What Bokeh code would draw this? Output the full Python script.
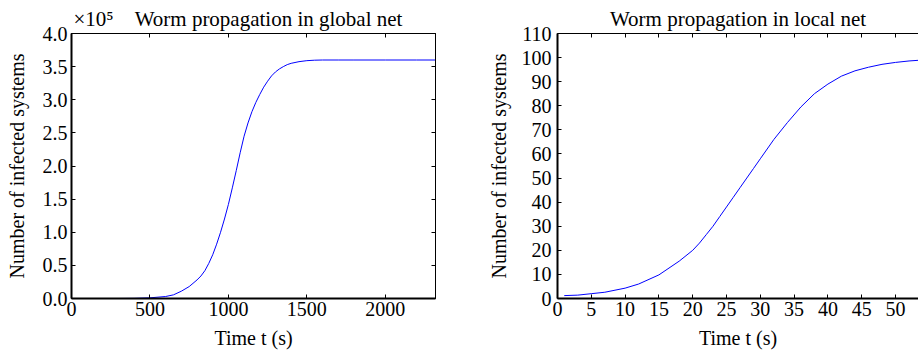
from bokeh.plotting import figure
from bokeh.models import (Range1d, LinearAxis, FixedTicker, NumeralTickFormatter,
                          Title, CustomJSTickFormatter)
from bokeh.layouts import row
from bokeh.embed import file_html
from bokeh.resources import INLINE

FONT = "Liberation Serif"

# ---- data ----
global_t = [0, 100, 200, 300, 400, 500, 600, 650, 700, 750, 800, 825, 850, 875,
            900, 925, 950, 975, 1000, 1025, 1050, 1075, 1100, 1125, 1150, 1175,
            1200, 1225, 1250, 1275, 1300, 1325, 1350, 1375, 1400, 1450, 1500,
            1550, 1600, 1700, 1800, 2000, 2200, 2320]
global_n = [0.0, 0.0, 0.0, 0.0, 0.002, 0.01, 0.03, 0.055, 0.11, 0.18, 0.28, 0.34,
            0.42, 0.53, 0.66, 0.82, 1.0, 1.2, 1.42, 1.67, 1.93, 2.2, 2.45, 2.65,
            2.82, 2.96, 3.08, 3.19, 3.28, 3.36, 3.42, 3.465, 3.5, 3.53, 3.55,
            3.575, 3.59, 3.597, 3.6, 3.6, 3.6, 3.6, 3.6, 3.6]  # x 10^5

local_t = [1, 3, 5, 7, 10, 12, 15, 18, 20, 21, 22, 23, 24, 25, 26, 27, 28, 29,
           30, 32, 34, 36, 38, 40, 42, 44, 46, 48, 50, 52, 54]
local_n = [1.2, 1.4, 2.0, 2.6, 4.3, 6.0, 9.8, 15.5, 20, 23, 26.5, 30, 34, 38,
           42, 46, 50, 54, 58, 66, 73, 79.5, 85, 89, 92.3, 94.5, 96, 97.2, 98,
           98.6, 99]

global_xticks = [0, 500, 1000, 1500, 2000]
global_yticks = [0, 0.5, 1.0, 1.5, 2.0, 2.5, 3.0, 3.5, 4.0]
local_xticks = [0, 5, 10, 15, 20, 25, 30, 35, 40, 45, 50]
local_yticks = [0, 10, 20, 30, 40, 50, 60, 70, 80, 90, 100, 110]

global_title = "×10⁵\u00a0\u00a0\u00a0\u00a0Worm propagation in global net"
local_title = "Worm propagation in local net"

TICK_SIZE = "20px"
LABEL_SIZE = "20px"
TITLE_SIZE = "21px"


def style_main(ax, ticks, label, standoff=4, label_standoff=10):
    ax.ticker = FixedTicker(ticks=ticks)
    ax.axis_label = label
    ax.axis_label_text_font = FONT
    ax.axis_label_text_font_size = LABEL_SIZE
    ax.axis_label_text_font_style = "normal"
    ax.axis_label_text_color = "black"
    ax.axis_label_standoff = label_standoff
    ax.major_label_text_font = FONT
    ax.major_label_text_font_size = TICK_SIZE
    ax.major_label_text_color = "black"
    ax.major_label_standoff = standoff
    ax.major_tick_in = 4
    ax.major_tick_out = 0
    ax.minor_tick_in = 0
    ax.minor_tick_out = 0
    ax.axis_line_width = 2
    ax.axis_line_color = "black"
    ax.major_tick_line_color = "black"


def mirror(ticks):
    ax = LinearAxis(ticker=FixedTicker(ticks=ticks),
                    formatter=CustomJSTickFormatter(code="return ''"))
    ax.major_label_text_font_size = "1px"
    ax.major_label_standoff = 0
    ax.major_tick_in = 4
    ax.major_tick_out = 0
    ax.minor_tick_in = 0
    ax.minor_tick_out = 0
    ax.axis_line_width = 1
    ax.axis_line_color = "black"
    ax.major_tick_line_color = "black"
    return ax


def make_title(text, align, offset):
    return Title(text=text, align=align, offset=offset, standoff=6,
                 text_font=FONT, text_font_size=TITLE_SIZE,
                 text_font_style="normal", text_color="black")


# ---- left: global net ----
p1 = figure(width=460, height=355, output_backend="svg", toolbar_location=None,
            x_range=Range1d(0, 2320), y_range=Range1d(0, 4.0),
            min_border_left=71, min_border_right=25, min_border_top=33,
            min_border_bottom=56)
p1.line(global_t, global_n, line_color="#0000ff", line_width=1)
p1.xgrid.visible = False
p1.ygrid.visible = False
p1.outline_line_color = "black"
p1.outline_line_width = 1
style_main(p1.xaxis[0], global_xticks, "Time t (s)", standoff=3, label_standoff=8)
style_main(p1.yaxis[0], global_yticks, "Number of infected systems", standoff=4, label_standoff=12)
p1.yaxis[0].formatter = NumeralTickFormatter(format="0.0")
p1.add_layout(mirror(global_xticks), "above")
p1.add_layout(mirror(global_yticks), "right")
p1.add_layout(make_title(global_title, "left", 2), "above")

# ---- right: local net ----
p2 = figure(width=458, height=355, output_backend="svg", toolbar_location=None,
            x_range=Range1d(0, 53.4), y_range=Range1d(0, 110),
            min_border_left=97, min_border_right=0, min_border_top=30,
            min_border_bottom=57)
p2.line(local_t, local_n, line_color="#0000ff", line_width=1)
p2.xgrid.visible = False
p2.ygrid.visible = False
p2.outline_line_color = None
style_main(p2.xaxis[0], local_xticks, "Time t (s)", standoff=3, label_standoff=8)
style_main(p2.yaxis[0], local_yticks, "Number of infected systems", standoff=6, label_standoff=9)
p2.add_layout(mirror(local_xticks), "above")
p2.add_layout(make_title(local_title, "center", 2), "above")

for p in (p1, p2):
    p.background_fill_color = "white"
    p.border_fill_color = "white"

layout = row(p1, p2)
open("out.html", "w").write(file_html(layout, INLINE))
